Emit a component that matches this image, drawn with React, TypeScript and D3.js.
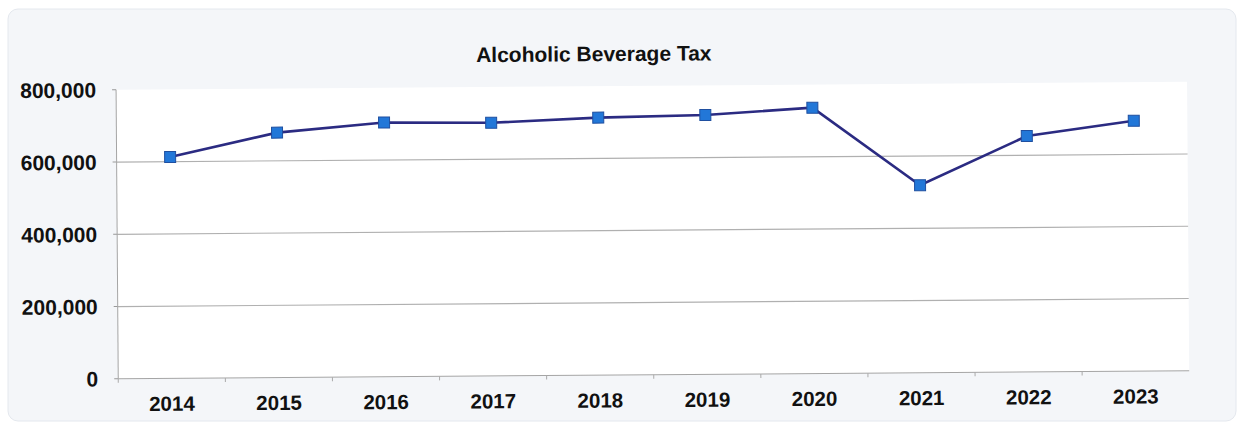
import React from "react";
import * as d3 from "d3";

const years = ["2014", "2015", "2016", "2017", "2018", "2019", "2020", "2021", "2022", "2023"];
const values = [613000, 678000, 704000, 701000, 713000, 718000, 736000, 519000, 653000, 693000];
const yTicks = [0, 200000, 400000, 600000, 800000];
const title = "Alcoholic Beverage Tax";

const W = 1244;
const H = 423;
const M = { left: 117, right: 1188, top: 86, bottom: 375 };

export default function App() {
  const x = d3.scaleBand<string>().domain(years).range([M.left, M.right]);
  const y = d3.scaleLinear().domain([0, 800000]).range([M.bottom, M.top]);
  const fmt = d3.format(",");
  const line = d3
    .line<number>()
    .x((_, i) => (x(years[i]) as number) + x.bandwidth() / 2)
    .y((d) => y(d));
  const font = "'Liberation Sans', Arial, sans-serif";

  return (
    <svg
      width={W}
      height={H}
      style={{ position: "absolute", left: 0, top: 0, background: "#ffffff" }}
    >
      <rect x={8} y={9} width={1228} height={412} rx={10} fill="#f4f6f9" stroke="#e4e8ee" />
      <g transform="rotate(-0.43 622 211)">
        <rect x={M.left} y={M.top} width={M.right - M.left} height={M.bottom - M.top} fill="#ffffff" />
        <text
          x={595}
          y={61}
          textAnchor="middle"
          fontFamily={font}
          fontWeight="bold"
          fontSize={21}
          fill="#111"
        >
          {title}
        </text>
        {yTicks.map((t) => (
          <g key={t}>
            {t > 0 && t < 800000 && (
              <line x1={M.left} x2={M.right} y1={y(t)} y2={y(t)} stroke="#b0b0b0" strokeWidth={1.2} />
            )}
            <line x1={M.left - 4} x2={M.left} y1={y(t)} y2={y(t)} stroke="#999" strokeWidth={1} />
            <text
              x={97}
              y={y(t)}
              dy="0.36em"
              textAnchor="end"
              fontFamily={font}
              fontWeight="bold"
              fontSize={21}
              fill="#111"
            >
              {fmt(t)}
            </text>
          </g>
        ))}
        <line x1={M.left} x2={M.left} y1={M.top} y2={M.bottom} stroke="#a5a5a5" strokeWidth={1} />
        <line x1={M.left} x2={M.right} y1={M.bottom} y2={M.bottom} stroke="#a5a5a5" strokeWidth={1} />
        {years.map((yr) => (
          <g key={yr}>
            <line
              x1={x(yr) as number}
              x2={x(yr) as number}
              y1={M.bottom}
              y2={M.bottom + 4}
              stroke="#aaa"
            />
            <text
              x={(x(yr) as number) + x.bandwidth() / 2}
              y={400}
              dy="0.36em"
              textAnchor="middle"
              fontFamily={font}
              fontWeight="bold"
              fontSize={20.5}
              fill="#111"
            >
              {yr}
            </text>
          </g>
        ))}
        <path d={line(values) || ""} fill="none" stroke="#2b2b82" strokeWidth={2.6} />
        {values.map((v, i) => {
          const cx = (x(years[i]) as number) + x.bandwidth() / 2;
          return (
            <rect
              key={i}
              x={cx - 5.5}
              y={y(v) - 5.5}
              width={11}
              height={11}
              fill="#2277d8"
              stroke="#1f4fa0"
              strokeWidth={1}
            />
          );
        })}
      </g>
    </svg>
  );
}
